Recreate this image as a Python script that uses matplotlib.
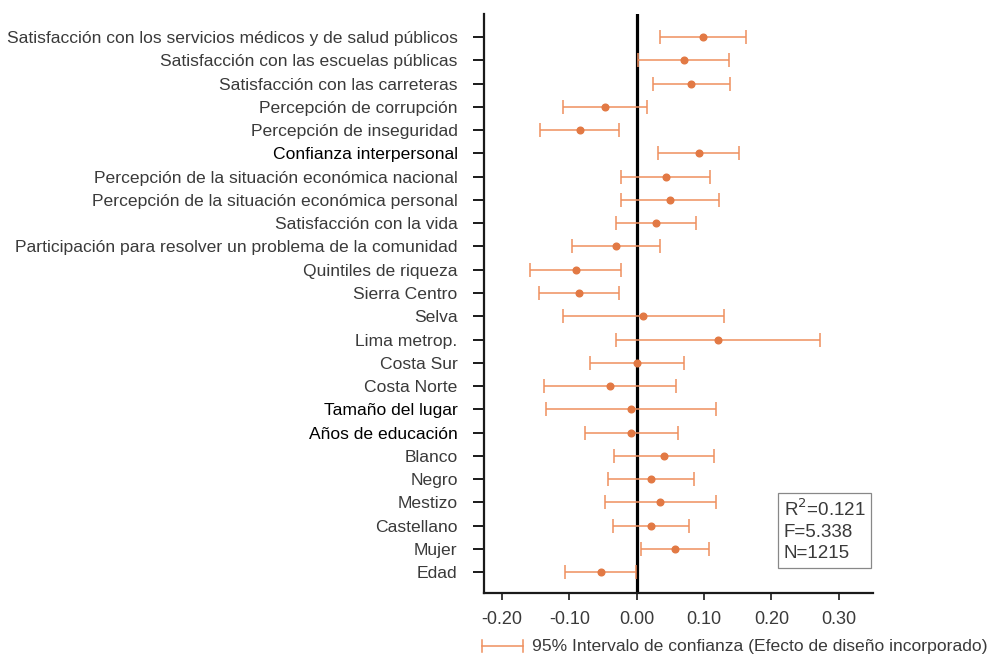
import matplotlib
matplotlib.use('Agg')
import matplotlib.pyplot as plt
from matplotlib.lines import Line2D
import numpy as np

plt.rcParams['font.family'] = ['Liberation Sans', 'DejaVu Sans']

# Variables del modelo (de arriba hacia abajo)
etiquetas = [
    'Satisfacción con los servicios médicos y de salud públicos',
    'Satisfacción con las escuelas públicas',
    'Satisfacción con las carreteras',
    'Percepción de corrupción',
    'Percepción de inseguridad',
    'Confianza interpersonal',
    'Percepción de la situación económica nacional',
    'Percepción de la situación económica personal',
    'Satisfacción con la vida',
    'Participación para resolver un problema de la comunidad',
    'Quintiles de riqueza',
    'Sierra Centro',
    'Selva',
    'Lima metrop.',
    'Costa Sur',
    'Costa Norte',
    'Tamaño del lugar',
    'Años de educación',
    'Blanco',
    'Negro',
    'Mestizo',
    'Castellano',
    'Mujer',
    'Edad',
]
resaltadas = ['Confianza interpersonal', 'Tamaño del lugar', 'Años de educación']

coef = [0.098, 0.070, 0.081, -0.047, -0.085, 0.092, 0.043, 0.049, 0.028, -0.031,
        -0.091, -0.086, 0.009, 0.121, 0.001, -0.040, -0.009, -0.009, 0.040, 0.021,
        0.035, 0.021, 0.057, -0.053]
inferior = [0.034, 0.002, 0.024, -0.109, -0.144, 0.032, -0.024, -0.023, -0.031, -0.096,
            -0.158, -0.146, -0.110, -0.031, -0.070, -0.138, -0.135, -0.077, -0.034, -0.043,
            -0.047, -0.035, 0.007, -0.106]
superior = [0.163, 0.137, 0.139, 0.015, -0.027, 0.152, 0.109, 0.122, 0.088, 0.034,
            -0.023, -0.026, 0.129, 0.273, 0.070, 0.059, 0.118, 0.061, 0.115, 0.085,
            0.117, 0.078, 0.107, -0.001]

marcas_x = [-0.20, -0.10, 0.00, 0.10, 0.20, 0.30]
estadisticos = 'R$^2$=0.121\nF=5.338\nN=1215'
leyenda = '95% Intervalo de confianza (Efecto de diseño incorporado)'

color_barra = '#EF8F5E'
color_punto = '#E27944'
color_texto = '#3a3a3a'

fig = plt.figure(figsize=(9.89, 6.59), dpi=100)
ax = fig.add_axes([0.4894, 0.1002, 0.3933, 0.8786])

y = np.arange(len(etiquetas))
coef_arr = np.array(coef)
err = np.vstack([coef_arr - np.array(inferior), np.array(superior) - coef_arr])

ax.axvline(0, color='black', lw=2.3, zorder=1)
ax.errorbar(coef_arr, y, xerr=err, fmt='none', ecolor=color_barra, elinewidth=1.1,
            capsize=5, capthick=1.1, zorder=2)
ax.plot(coef_arr, y, 'o', color=color_punto, markersize=4.8, zorder=3)

ax.set_xlim(-0.227, 0.351)
ax.set_ylim(len(etiquetas) - 0.1, -1)

ax.set_yticks(y)
ax.set_yticklabels(etiquetas, fontsize=12.6, color=color_texto)
for t in ax.get_yticklabels():
    if t.get_text() in resaltadas:
        t.set_color('black')

ax.set_xticks(marcas_x)
ax.set_xticklabels(['%.2f' % v for v in marcas_x], fontsize=13, color=color_texto)

for s in ['top', 'right']:
    ax.spines[s].set_visible(False)
for s in ['left', 'bottom']:
    ax.spines[s].set_linewidth(1.6)
    ax.spines[s].set_color('#1a1a1a')
ax.tick_params(axis='y', length=8, width=1.4, pad=11, color='#1a1a1a')
ax.tick_params(axis='x', length=5, width=1.2, pad=8, color='#1a1a1a')

# Caja de estadísticos
ax.text(0.77, 0.163, estadisticos, transform=ax.transAxes, fontsize=13.5,
        color=color_texto, va='top', ha='left', linespacing=1.3,
        bbox=dict(boxstyle='square,pad=0.3', fc='white', ec='#888888', lw=0.9))

# Leyenda inferior
ly = 1 - 646 / 659
fig.add_artist(Line2D([482 / 989, 523 / 989], [ly, ly], color=color_barra, lw=1.1))
for xx in [482 / 989, 523 / 989]:
    fig.add_artist(Line2D([xx, xx], [ly - 6 / 659, ly + 6 / 659], color=color_barra, lw=1.1))
fig.text(532 / 989, ly, leyenda, fontsize=12.6, color=color_texto, va='center', ha='left')

plt.savefig('out.png', dpi=100)
